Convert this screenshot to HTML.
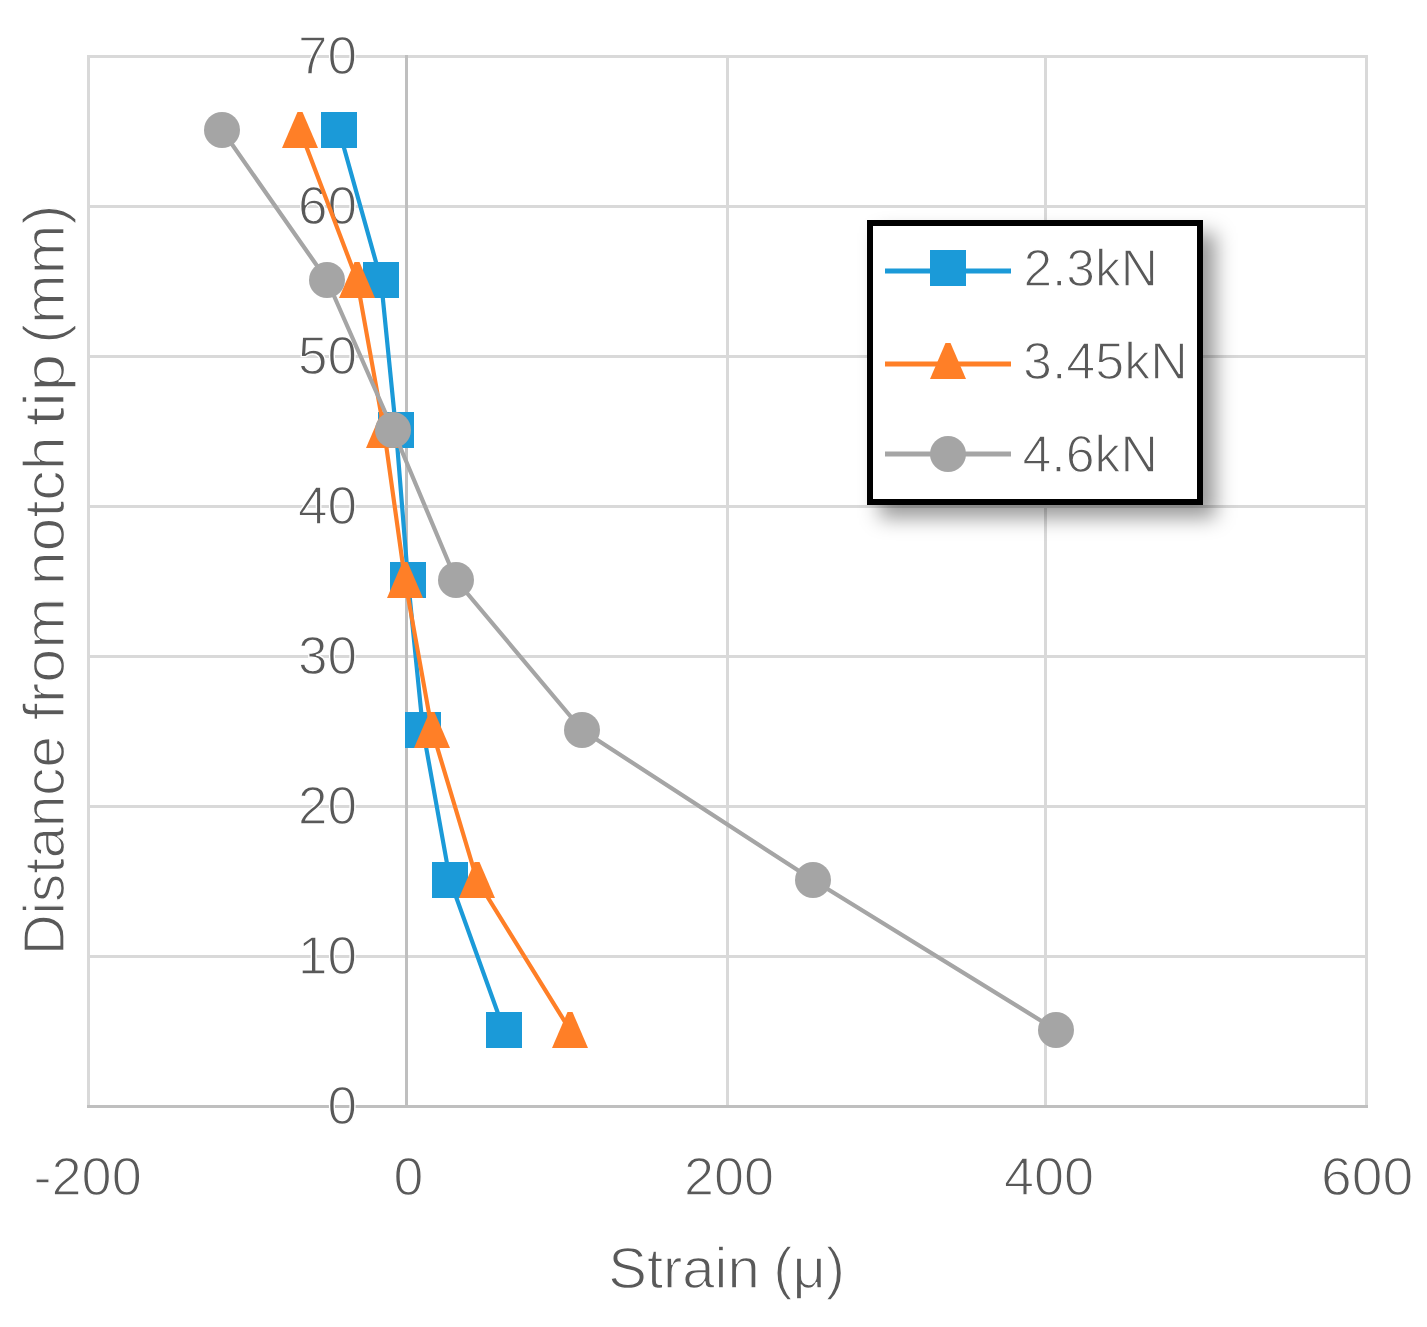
<!DOCTYPE html>
<html><head><meta charset="utf-8">
<style>
html,body{margin:0;padding:0;background:#fff;}
body{width:1427px;height:1327px;overflow:hidden;position:relative;}
svg{position:absolute;left:0;top:0;}
text{font-family:"Liberation Sans",sans-serif;fill:#595959;stroke:#fff;stroke-width:1.3px;}
#legend{position:absolute;left:867px;top:220px;width:324px;height:273px;border:6px solid #000;background:#fff;}
</style></head>
<body>
<svg width="1427" height="1327" viewBox="0 0 1427 1327">
<!-- gridlines -->
<g stroke="#d9d9d9" stroke-width="3" fill="none">
<line x1="87" y1="56.5" x2="1368" y2="56.5"/>
<line x1="87" y1="206.5" x2="1368" y2="206.5"/>
<line x1="87" y1="356.5" x2="1368" y2="356.5"/>
<line x1="87" y1="506.5" x2="1368" y2="506.5"/>
<line x1="87" y1="656.5" x2="1368" y2="656.5"/>
<line x1="87" y1="806.5" x2="1368" y2="806.5"/>
<line x1="87" y1="956.5" x2="1368" y2="956.5"/>
<line x1="88.5" y1="55" x2="88.5" y2="1108"/>
<line x1="727.5" y1="55" x2="727.5" y2="1108"/>
<line x1="1045.5" y1="55" x2="1045.5" y2="1108"/>
<line x1="1366.5" y1="55" x2="1366.5" y2="1108"/>
</g>
<g stroke="#bfbfbf" stroke-width="3" fill="none">
<line x1="406.5" y1="55" x2="406.5" y2="1108"/>
<line x1="87" y1="1106.5" x2="1368" y2="1106.5"/>
</g>
<!-- y tick labels -->
<g font-size="53" text-anchor="end">
<text x="357" y="73.7">70</text>
<text x="357" y="223.7">60</text>
<text x="357" y="373.7">50</text>
<text x="357" y="523.7">40</text>
<text x="357" y="673.7">30</text>
<text x="357" y="823.7">20</text>
<text x="357" y="973.7">10</text>
<text x="357" y="1123.7">0</text>
</g>
<!-- x tick labels -->
<g font-size="53">
<text x="33.40" y="1195" textLength="108.39" lengthAdjust="spacingAndGlyphs">-200</text>
<text x="393.40" y="1195" textLength="29.87" lengthAdjust="spacingAndGlyphs">0</text>
<text x="684.00" y="1195" textLength="90.06" lengthAdjust="spacingAndGlyphs">200</text>
<text x="1004.00" y="1195" textLength="90.13" lengthAdjust="spacingAndGlyphs">400</text>
<text x="1321.00" y="1195" textLength="92.28" lengthAdjust="spacingAndGlyphs">600</text>
</g>
<!-- axis titles -->
<g id="xt" font-size="57"><text x="608.20" y="1288" textLength="151.55" lengthAdjust="spacingAndGlyphs">Strain</text><text x="773.20" y="1288" textLength="71.82" lengthAdjust="spacingAndGlyphs">(μ)</text></g>
<g transform="translate(63.5,0) rotate(-90)" font-size="57"><text x="-955.00" y="0" textLength="218.65" lengthAdjust="spacingAndGlyphs">Distance</text><text x="-720.20" y="0" textLength="122.40" lengthAdjust="spacingAndGlyphs">from</text><text x="-585.20" y="0" textLength="148.68" lengthAdjust="spacingAndGlyphs">notch</text><text x="-426.00" y="0" textLength="72.50" lengthAdjust="spacingAndGlyphs">tip</text><text x="-343.80" y="0" textLength="139.23" lengthAdjust="spacingAndGlyphs">(mm)</text></g>

<!-- series blue -->
<g>
<polyline fill="none" stroke="#1b9ad8" stroke-width="4.2" stroke-linejoin="round" points="339,130 381,280 396,430 408,580 423,730 450,880 504,1030"/>
<g fill="#1b9ad8">
<rect x="321" y="112" width="36" height="36"/>
<rect x="363" y="262" width="36" height="36"/>
<rect x="378" y="412" width="36" height="36"/>
<rect x="390" y="562" width="36" height="36"/>
<rect x="405" y="712" width="36" height="36"/>
<rect x="432" y="862" width="36" height="36"/>
<rect x="486" y="1012" width="36" height="36"/>
</g>
</g>
<!-- series orange -->
<g>
<polyline fill="none" stroke="#ff7f27" stroke-width="4.2" stroke-linejoin="round" points="300,130 357,280 384,430 405,580 432,730 477,880 570,1030"/>
<g fill="#ff7f27">
<polygon points="282,148 297.5,112 302.5,112 318,148"/>
<polygon points="339,298 354.5,262 359.5,262 375,298"/>
<polygon points="366,448 381.5,412 386.5,412 402,448"/>
<polygon points="387,598 402.5,562 407.5,562 423,598"/>
<polygon points="414,748 429.5,712 434.5,712 450,748"/>
<polygon points="459,898 474.5,862 479.5,862 495,898"/>
<polygon points="552,1048 567.5,1012 572.5,1012 588,1048"/>
</g>
</g>
<!-- series gray -->
<g>
<polyline fill="none" stroke="#a5a5a5" stroke-width="4.2" stroke-linejoin="round" points="222,130 327,280 393,430 456,580 582,730 813,880 1056,1030"/>
<g fill="#a5a5a5">
<circle cx="222" cy="130" r="18"/>
<circle cx="327" cy="280" r="18"/>
<circle cx="393" cy="430" r="18"/>
<circle cx="456" cy="580" r="18"/>
<circle cx="582" cy="730" r="18"/>
<circle cx="813" cy="880" r="18"/>
<circle cx="1056" cy="1030" r="18"/>
</g>
</g>
<defs><filter id="sh" x="-20%" y="-20%" width="140%" height="140%"><feGaussianBlur stdDeviation="10"/></filter></defs>
<rect x="879.5" y="233" width="336" height="285" fill="#000" fill-opacity="0.4" filter="url(#sh)"/>
</svg>
<div id="legend"></div>
<svg width="1427" height="1327" viewBox="0 0 1427 1327" style="pointer-events:none">
<line x1="885" y1="271" x2="1011" y2="271" stroke="#1b9ad8" stroke-width="5"/>
<rect x="930" y="250" width="36" height="36" fill="#1b9ad8"/>
<line x1="885" y1="364" x2="1011" y2="364" stroke="#ff7f27" stroke-width="5"/>
<polygon points="930,379 945.5,343 950.5,343 966,379" fill="#ff7f27"/>
<line x1="885" y1="454" x2="1011" y2="454" stroke="#a5a5a5" stroke-width="5"/>
<circle cx="948" cy="454" r="18" fill="#a5a5a5"/>
<g font-size="52">
<text x="1023.40" y="286.3" textLength="134.61" lengthAdjust="spacingAndGlyphs">2.3kN</text>
<text x="1023.00" y="379.3" textLength="164.73" lengthAdjust="spacingAndGlyphs">3.45kN</text>
<text x="1022.40" y="472" textLength="135.43" lengthAdjust="spacingAndGlyphs">4.6kN</text>
</g>
</svg>
</body></html>
